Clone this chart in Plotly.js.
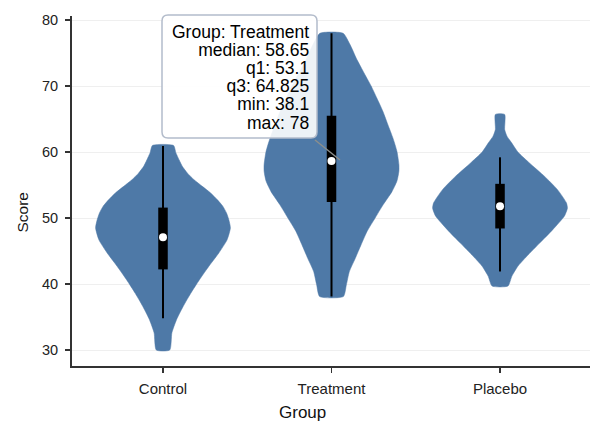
<!DOCTYPE html>
<html>
<head>
<meta charset="utf-8">
<script src="https://cdn.plot.ly/plotly-3.0.1.min.js"></script>
<style>html,body{margin:0;padding:0;background:#fff;}#chart{width:604px;height:436px;}</style>
</head>
<body>
<div id="chart"></div>
<script>
// ---- data ----
const categories = ['Control', 'Treatment', 'Placebo'];
const q1 = [42.9, 53.1, 49.1];
const median = [47.1, 58.65, 51.8];
const q3 = [50.9, 64.825, 54.5];
const minVal = [34.8, 38.1, 41.9];
const maxVal = [60.9, 78, 59.2];

// violin density profiles (relative density, max = 1)
const controlY = [30.0, 32.6, 34.6, 36.6, 38.6, 40.7, 42.7, 44.7, 46.7, 48.5, 49.8, 50.8, 51.8, 52.8, 53.8, 54.8, 55.8, 56.8, 57.8, 58.8, 59.9, 61.0];
const controlDensity = [0.10, 0.132, 0.201, 0.299, 0.412, 0.544, 0.681, 0.828, 0.951, 1.0, 0.975, 0.941, 0.887, 0.804, 0.706, 0.583, 0.461, 0.363, 0.289, 0.240, 0.191, 0.157];
const treatmentY = [38.1, 39.9, 41.9, 43.9, 46.0, 48.0, 50.0, 52.0, 54.0, 55.6, 57.1, 58.1, 60.1, 62.1, 64.1, 66.1, 68.1, 70.0, 72.2, 74.2, 76.2, 78.0];
const treatmentDensity = [0.176, 0.221, 0.265, 0.353, 0.441, 0.529, 0.647, 0.765, 0.897, 0.971, 1.0, 1.0, 0.971, 0.912, 0.838, 0.765, 0.676, 0.588, 0.471, 0.368, 0.279, 0.172];
const placeboY = [39.7, 41.2, 42.7, 44.2, 46.2, 48.2, 50.3, 51.5, 52.3, 54.3, 56.3, 58.3, 60.0, 61.4, 62.4, 63.4, 65.7];
const placeboDensity = [0.118, 0.176, 0.265, 0.397, 0.588, 0.779, 0.956, 1.0, 0.985, 0.853, 0.662, 0.441, 0.265, 0.172, 0.103, 0.069, 0.069];

const yTicks = [30, 40, 50, 60, 70, 80];

// ---- styling / layout ----
const FONT = 'Liberation Sans, Arimo, Arial, Helvetica, sans-serif';
const VIOLIN = '#4e79a7';
const M = {l: 72, r: 14, t: 16, b: 70};
const W = 604, H = 436;
const PW = W - M.l - M.r, PH = H - M.t - M.b;
const Y_RANGE = [27.58, 80.61];
const px2x = px => (px - M.l) / PW;
const py2y = py => (H - M.b - py) / PH;
const HALF = 0.4;
const BOX_PAD = 4.5 * (Y_RANGE[1] - Y_RANGE[0]) / PH;   // box stroke overhang, 4.5px in data units

const profiles = [[controlY, controlDensity], [treatmentY, treatmentDensity], [placeboY, placeboDensity]];
const traces = [];
profiles.forEach(([ys, ds], i) => {
  const xs = [], yy = [];
  for (let k = 0; k < ys.length; k++) { xs.push(i + HALF * ds[k]); yy.push(ys[k]); }
  for (let k = ys.length - 1; k >= 0; k--) { xs.push(i - HALF * ds[k]); yy.push(ys[k]); }
  xs.push(xs[0]); yy.push(yy[0]);
  traces.push({
    type: 'scatter', mode: 'lines', x: xs, y: yy, fill: 'toself',
    fillcolor: VIOLIN, line: {color: VIOLIN, width: 0.5, shape: 'spline', smoothing: 0.55},
    hoverinfo: 'skip', showlegend: false
  });
});

// whiskers (min-max) and boxes (q1-q3) as thick lines
const wx = [], wy = [], bxs = [], bys = [];
categories.forEach((c, i) => {
  wx.push(i, i, null); wy.push(minVal[i], maxVal[i], null);
  bxs.push(i, i, null); bys.push(q1[i] - BOX_PAD, q3[i] + BOX_PAD, null);
});
traces.push({type: 'scatter', mode: 'lines', x: wx, y: wy, connectgaps: false,
  line: {color: '#000', width: 2}, hoverinfo: 'skip', showlegend: false});
traces.push({type: 'scatter', mode: 'lines', x: bxs, y: bys, connectgaps: false,
  line: {color: '#000', width: 9.5}, hoverinfo: 'skip', showlegend: false});

traces.push({
  type: 'scatter', mode: 'markers', x: [0, 1, 2], y: median,
  marker: {color: '#fff', size: 8, line: {width: 0}}, showlegend: false, hoverinfo: 'skip'
});

// tooltip (Treatment)
const ti = 1;
const tipLines = [
  'Group: ' + categories[ti],
  'median: ' + median[ti],
  'q1: ' + q1[ti],
  'q3: ' + q3[ti],
  'min: ' + minVal[ti],
  'max: ' + maxVal[ti]
];
const TIP_LINE = 18.1;
const bx0 = px2x(162), bx1 = px2x(317), by0 = py2y(138), by1 = py2y(15);
const rx = 6 / PW, ry = 6 / PH;
const tipPath = `M ${bx0 + rx},${by1} L ${bx1 - rx},${by1} Q ${bx1},${by1} ${bx1},${by1 - ry} ` +
  `L ${bx1},${by0 + ry} Q ${bx1},${by0} ${bx1 - rx},${by0} L ${bx0 + rx},${by0} ` +
  `Q ${bx0},${by0} ${bx0},${by0 + ry} L ${bx0},${by1 - ry} Q ${bx0},${by1} ${bx0 + rx},${by1} Z`;

const shapes = [
  {type: 'line', xref: 'paper', yref: 'paper', x0: px2x(315), y0: py2y(140), x1: px2x(340), y1: py2y(160),
   line: {color: '#8c8f8c', width: 1.5}, layer: 'above'},
  {type: 'path', xref: 'paper', yref: 'paper', path: tipPath,
   fillcolor: 'rgba(255,255,255,0.9)', line: {color: '#b3bccb', width: 1.5}, layer: 'above'}
];

const annotations = [{
  xref: 'paper', yref: 'paper', x: px2x(311), y: py2y(20), xanchor: 'right', yanchor: 'top', align: 'right',
  text: tipLines.join('<br>'), showarrow: false, font: {family: FONT, size: 17.5, color: '#000'}
}];
annotations.push({
  xref: 'paper', yref: 'paper', x: px2x(302), y: py2y(412), xanchor: 'center', yanchor: 'middle',
  text: 'Group', showarrow: false, font: {family: FONT, size: 17, color: '#111'}
});
annotations.push({
  xref: 'paper', yref: 'paper', x: px2x(22), y: py2y(212.5), xanchor: 'center', yanchor: 'middle',
  text: 'Score', textangle: -90, showarrow: false, font: {family: FONT, size: 15.5, color: '#111'}
});

const axisCommon = {
  showline: true, linecolor: '#333', linewidth: 2, ticks: 'outside', ticklen: 5, tickwidth: 1.5,
  tickcolor: '#333', zeroline: false, fixedrange: true
};

const layout = {
  width: W, height: H, margin: M, paper_bgcolor: '#fff', plot_bgcolor: '#fff',
  showlegend: false, hovermode: false,
  xaxis: Object.assign({}, axisCommon, {
    range: [-0.540, 2.534], tickmode: 'array', tickvals: [0, 1, 2], ticktext: categories, showgrid: false,
    ticklabelstandoff: 3, tickfont: {family: FONT, size: 15, color: '#222'}
  }),
  yaxis: Object.assign({}, axisCommon, {
    range: Y_RANGE, tickmode: 'array', tickvals: yTicks, showgrid: true, gridcolor: '#efefef', gridwidth: 1,
    ticklabelstandoff: 4, tickfont: {family: FONT, size: 14.5, color: '#222'}
  }),
  shapes: shapes,
  annotations: annotations
};

Plotly.newPlot('chart', traces, layout, {staticPlot: true, displayModeBar: false}).then(() => {
  // tighten the tooltip's line spacing to match the reference
  const txt = document.querySelector('.annotation[data-index="0"] text.annotation-text');
  if (txt) {
    txt.querySelectorAll('tspan.line').forEach((t, i) => t.setAttribute('dy', (i * TIP_LINE) + 'px'));
  }
});
</script>
</body>
</html>
